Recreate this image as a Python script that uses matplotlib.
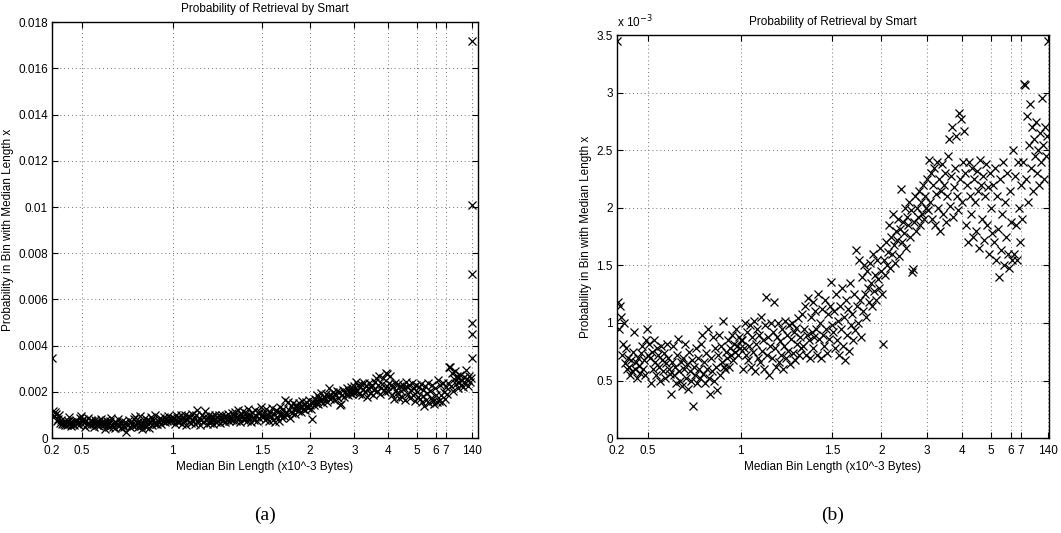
import numpy as np
import matplotlib
matplotlib.use('Agg')
import matplotlib.pyplot as plt

plt.rcParams['font.family'] = ['Liberation Sans', 'DejaVu Sans']

# ---------------------------------------------------------------------------
# Data: probability per bin (units of 1e-3), bins ordered by median length
# ---------------------------------------------------------------------------
prob_e3 = [
    # 0.2 -> 0.5
    3.45, 1.18, 0.95, 1.15, 1.05, 0.72, 0.82, 1.0, 0.65, 0.78, 0.6, 0.7, 0.62, 0.55, 0.68, 0.58,
    0.75, 0.92, 0.6, 0.66, 0.52, 0.7, 0.63, 0.57, 0.74, 0.8, 0.6, 0.68, 0.55, 0.85, 0.95, 0.72,
    # 0.5 -> 1
    0.82, 0.7, 0.48, 0.75, 0.6, 0.85, 0.66, 0.55, 0.78, 0.72, 0.62, 0.5, 0.8, 0.68, 0.58, 0.74,
    0.52, 0.65, 0.82, 0.7, 0.6, 0.56,
    0.38, 0.66, 0.8, 0.55, 0.62, 0.48, 0.72, 0.86, 0.58, 0.5, 0.66, 0.45, 0.7, 0.6, 0.82, 0.52,
    0.64, 0.43, 0.75, 0.58, 0.5, 0.68, 0.28, 0.62, 0.55, 0.78, 0.48, 0.7, 0.6, 0.52,
    0.82, 0.9, 0.56, 0.66, 0.48, 0.74, 0.6, 0.95, 0.52, 0.38, 0.7, 0.58, 0.88, 0.5, 0.78, 0.62,
    0.42, 0.72, 0.9, 0.55, 0.8, 0.66, 1.02, 0.62, 0.6, 0.75, 0.7, 0.85, 0.62, 0.78, 0.72, 0.9,
    0.68, 0.82, 0.75, 0.95, 0.8, 0.72, 0.88, 0.78, 0.85,
    # 1 -> 1.5
    0.85, 0.6, 0.78, 1.0, 0.72, 0.92, 0.68, 0.8, 0.98, 0.62, 0.88, 0.75, 1.02, 0.58, 0.82, 0.95,
    0.7, 0.9, 0.66, 1.05, 0.76, 0.85, 0.6, 0.98, 1.23, 0.72, 0.88, 0.55, 0.8, 1.0,
    0.7, 0.92, 1.18, 0.78, 0.62, 0.88, 1.0, 0.66, 0.84, 0.72, 0.95, 0.6, 0.8, 1.02, 0.7, 0.9,
    0.76, 0.98, 0.64, 0.86, 1.0, 0.74, 0.92, 0.68, 0.96, 0.82, 1.04, 0.72, 0.88, 0.78,
    1.08, 0.8, 0.95, 1.15, 0.72, 0.9, 1.22, 0.85, 0.7, 1.05, 0.92, 1.18, 0.78, 0.88, 1.1, 0.95,
    0.72, 1.25, 0.86, 1.0, 0.7, 1.12, 0.9, 0.8, 1.2, 0.95, 0.74, 1.08, 0.86, 1.15, 1.36, 0.98,
    # 1.5 -> 2
    0.92, 1.1, 0.78, 1.25, 0.85, 1.02, 0.72, 1.15, 0.95, 1.3, 0.8, 1.05, 0.68, 1.2, 0.9, 1.12,
    0.76, 1.35, 0.98, 1.08, 0.85, 1.25, 0.94, 1.63, 1.15, 1.0, 1.55, 1.2, 0.88, 1.4, 1.1, 1.5,
    1.25, 1.05, 1.45, 1.3, 1.18, 1.52, 1.35, 1.15, 1.6, 1.28, 1.42, 1.2, 1.55, 1.38, 1.3, 1.65,
    1.45, 1.25,
    # 2 -> 3
    0.82, 1.55, 1.42, 1.7, 1.5, 1.62, 1.85, 1.48, 1.75, 1.6, 1.95, 1.68, 1.52, 1.8, 1.72, 1.9,
    1.58, 1.82, 2.16, 1.7, 1.88, 1.78, 2.0, 1.65, 1.92, 1.85, 2.05, 1.75, 1.98, 1.44, 1.47, 1.88,
    2.1, 1.8, 2.0, 1.92, 2.15, 1.85, 2.05, 1.95, 2.2, 1.9, 2.1, 2.0, 2.25, 1.98,
    # 3 -> 4
    2.42, 2.05, 2.3, 1.9, 2.2, 2.35, 1.85, 2.12, 2.4, 2.0, 2.25, 1.8, 2.15, 2.38, 1.95, 2.2,
    2.3, 1.88, 2.1, 2.45, 2.6, 2.02, 2.28, 2.7, 1.92, 2.18, 2.35, 2.62, 2.1, 1.98, 2.82, 2.25,
    2.77, 2.05, 2.4,
    # 4 -> 5
    2.67, 2.3, 1.85, 2.2, 1.7, 2.4, 2.1, 1.95, 2.35, 1.75, 2.25, 2.05, 1.8, 2.32, 2.15, 1.65,
    2.42, 2.2, 1.9, 2.28, 1.72, 2.1, 2.38, 1.85, 2.18, 1.6, 2.3, 2.0, 1.78,
    # 5 -> 6
    2.2, 1.7, 2.35, 1.55, 2.1, 1.82, 1.4, 2.25, 1.63, 1.95, 2.4, 1.5, 2.05, 1.75, 2.3, 1.6,
    1.48, 2.15, 1.88, 1.55,
    # 6 -> 7
    2.5, 1.6, 2.28, 1.85, 1.55, 2.4, 2.0, 1.7, 2.2, 1.9,
    # 7 -> 140
    2.4, 3.08, 3.07, 2.25, 2.8, 2.05, 2.55, 2.9, 2.35, 2.7, 2.15, 2.6, 2.45, 2.75, 2.3, 2.5,
    2.2, 2.65, 2.4, 2.95, 2.55, 2.25, 2.7, 2.45, 2.62, 3.45,
]
# large values in the last (140) bin, only visible on the full-range panel
tail_e3 = [4.5, 5.0, 7.1, 10.1, 17.2]

# bin index where each median-length label falls
tick_bins = [0, 31, 124, 216, 265, 311, 346, 375, 395, 405, 432]
tick_labels = ['0.2', '0.5', '1', '1.5', '2', '3', '4', '5', '6', '7', '140']

yticks_a = [0, 0.002, 0.004, 0.006, 0.008, 0.01, 0.012, 0.014, 0.016, 0.018]
yticklabels_a = ['0', '0.002', '0.004', '0.006', '0.008', '0.01', '0.012', '0.014', '0.016', '0.018']
yticks_b = [0, 0.5, 1, 1.5, 2, 2.5, 3, 3.5]
yticklabels_b = ['0', '0.5', '1', '1.5', '2', '2.5', '3', '3.5']

x = np.append(np.arange(len(prob_e3)), np.full(len(tail_e3), len(prob_e3) - 1))
p_e3 = np.array(prob_e3 + tail_e3)

TITLE = 'Probability of Retrieval by Smart'
XLAB = 'Median Bin Length (x10^-3 Bytes)'
YLAB = 'Probability in Bin with Median Length x'
FS = 8.5


def style_axes(ax):
    ax.set_xticks(tick_bins)
    ax.set_xticklabels(tick_labels, fontsize=FS)
    ax.tick_params(direction='in', top=True, right=True, length=4, width=0.8,
                   labelsize=FS)
    ax.tick_params(axis='x', pad=5)
    ax.tick_params(axis='y', pad=3)
    ax.grid(True, ls=(0, (1, 3)), color='0.45', lw=0.7)
    for s in ax.spines.values():
        s.set_linewidth(1.0)
    ax.set_xlabel(XLAB, fontsize=FS, labelpad=3)
    ax.set_ylabel(YLAB, fontsize=FS, labelpad=3)
    ax.set_title(TITLE, fontsize=FS, pad=7)


fig = plt.figure(figsize=(10.61, 5.33), dpi=100)
ax1 = fig.add_axes([0.049, 0.178, 0.4015, 0.7805])
ax2 = fig.add_axes([0.5815, 0.178, 0.407, 0.756])

# ── (a) full range ──────────────────────────────────────────────────────
ax1.plot(x, p_e3 * 1e-3, 'x', color='black', ms=5.5, mew=0.9)
ax1.set_xlim(0, (len(prob_e3) - 1) * 1.014)
ax1.set_ylim(0, 0.018)
ax1.set_yticks(yticks_a)
ax1.set_yticklabels(yticklabels_a)
style_axes(ax1)

# ── (b) zoomed, in units of 1e-3 ────────────────────────────────────────
ax2.plot(x, p_e3, 'x', color='black', ms=5.5, mew=0.9)
ax2.set_xlim(0, (len(prob_e3) - 1) * 1.002)
ax2.set_ylim(0, 3.5)
ax2.set_yticks(yticks_b)
ax2.set_yticklabels(yticklabels_b)
style_axes(ax2)
ax2.text(0.0, 1.012, r'x 10$^{-3}$', transform=ax2.transAxes, fontsize=FS,
         ha='left', va='bottom')

fig.text(0.2495, 0.034, '(a)', family=['Liberation Serif', 'DejaVu Serif'],
         fontsize=14, ha='center', va='center')
fig.text(0.785, 0.034, '(b)', family=['Liberation Serif', 'DejaVu Serif'],
         fontsize=14, ha='center', va='center')

fig.savefig('out.png', dpi=100)
